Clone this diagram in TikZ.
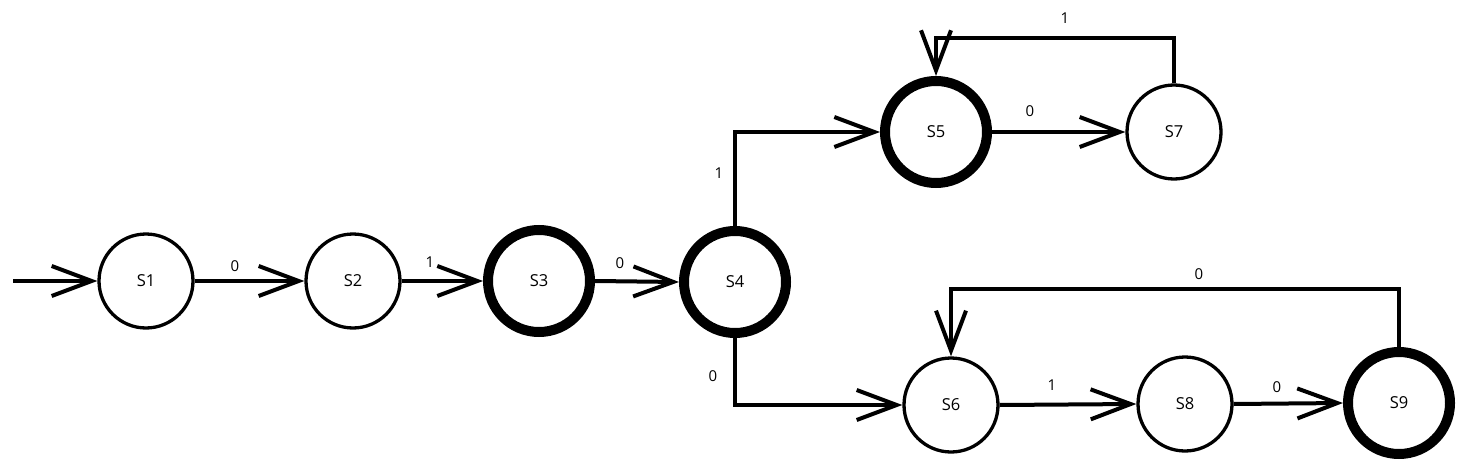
\documentclass[tikz,border=0pt]{standalone}
\usepackage{fontspec}
\setmainfont{Open Sans}
\usetikzlibrary{arrows.meta}
\begin{document}
\begin{tikzpicture}[x=1pt,y=-1pt,
  state/.style={circle,draw=black,line width=3.3pt,minimum size=94pt,inner sep=0pt,font=\fontsize{16.5}{16.5}\selectfont},
  accept/.style={circle,draw=black,line width=10pt,minimum size=102pt,inner sep=0pt,font=\fontsize{16.5}{16.5}\selectfont},
  edge/.style={line width=4pt,-{Straight Barb[length=40pt,width=30pt,line width=4pt]}},
  lbl/.style={font=\fontsize{15}{15}\selectfont,inner sep=0pt}]
\useasboundingbox (0,0) rectangle (1464,468);
\node[state]  (S1) at (146,281) {S1};
\node[state]  (S2) at (353,281) {S2};
\node[accept] (S3) at (539,281) {S3};
\node[accept] (S4) at (735,282) {S4};
\node[accept] (S5) at (936,132) {S5};
\node[state]  (S7) at (1174,132) {S7};
\node[state]  (S6) at (951,405) {S6};
\node[state]  (S8) at (1185,404) {S8};
\node[accept] (S9) at (1399,403) {S9};
\coordinate (start) at (13,281);
\coordinate (top1) at (0,38);
\coordinate (top2) at (0,289);
\draw[edge] (start) -- (S1.west);
\draw[edge] (S1.east) -- (S2.west);
\draw[edge] (S2.east) -- (S3.west);
\draw[edge] (S3.east) -- (S4.west);
\draw[edge] (S4.north) |- (S5.west);
\draw[edge] (S4.south) |- (S6.west);
\draw[edge] (S5.east) -- (S7.west);
\draw[edge] (S7.north) -- (S7.north |- top1) -| (S5.north);
\draw[edge] (S6.east) -- (S8.west);
\draw[edge] (S8.east) -- (S9.west);
\draw[edge] (S9.north) -- (S9.north |- top2) -| (S6.north);
\node[lbl] (l1) at (235,266) {0};
\node[lbl] (l2) at (430,262) {1};
\node[lbl] (l3) at (620,263) {0};
\node[lbl] (l4) at (719,173) {1};
\node[lbl] (l5) at (713,376) {0};
\node[lbl] (l6) at (1030,111) {0};
\node[lbl] (l7) at (1065,18) {1};
\node[lbl] (l8) at (1052,385) {1};
\node[lbl] (l9) at (1277,387) {0};
\node[lbl] (l10) at (1199,274) {0};
\end{tikzpicture}
\end{document}
